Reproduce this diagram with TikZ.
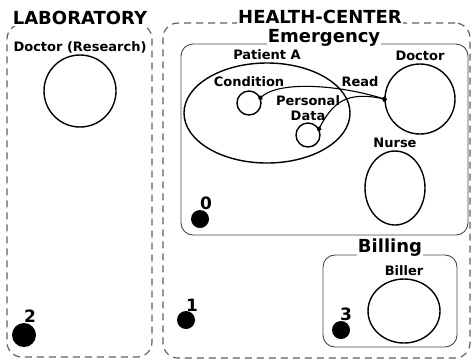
\documentclass[tikz,border=0pt]{standalone}
\usepackage{fontspec}
\setmainfont{DejaVu Sans}
\usetikzlibrary{arrows.meta,positioning,shapes.geometric}

\begin{document}
\begin{tikzpicture}[
x=1pt, y=-1pt,
node distance=1pt,
zone/.style={draw=gray!75!black, dash pattern=on 7pt off 5pt, rounded corners=15pt, line width=1.2pt, inner sep=0pt},
room/.style={draw=gray!55!black, rounded corners=12pt, line width=0.9pt, inner sep=0pt},
actor/.style={draw, circle, line width=1.4pt, inner sep=0pt},
blob/.style={draw, ellipse, line width=1.4pt, inner sep=0pt},
title/.style={font=\bfseries\fontsize{18}{18}\selectfont, fill=white, inner sep=1pt},
lbl/.style={font=\bfseries\fontsize{13}{15}\selectfont, align=center, inner sep=1pt},
num/.style={font=\bfseries\fontsize{17}{17}\selectfont, inner sep=0pt},
dot/.style={circle, fill=black, inner sep=0pt},
link/.style={line width=1.1pt, {Circle[length=5pt]}-{Circle[length=5pt]}, shorten <=-2.5pt, shorten >=-2.5pt}
]
\useasboundingbox (0,0) rectangle (473,360);

% domains
\node[zone, minimum width=145, minimum height=333] (lab) at (79.5,190.5) {};
\node[zone, minimum width=307, minimum height=335] (hc) at (316.5,190.5) {};
\node[title] (labt) at (80,18) {LABORATORY};
\node[title] (hct) at (320,17) {HEALTH-CENTER};

% rooms
\node[room, minimum width=287, minimum height=191] (emer) at (324.5,139.5) {};
\node[room, minimum width=134, minimum height=92] (bill) at (390,301) {};
\node[title] (emert) at (324,38) {Emergency};
\node[title] (billt) at (390,248) {Billing};

% actors
\node[actor, minimum size=72] (docres) at (80,91) {};
\node[lbl, above=0pt of docres] {Doctor (Research)};
\node[blob, minimum width=166, minimum height=100] (pat) at (267,113) {};
\node[lbl, above=1pt of pat] {Patient A};
\node[actor, minimum size=24] (cond) at (249,103) {};
\node[lbl, above=2pt of cond] {Condition};
\node[actor, minimum size=24] (pers) at (308,135) {};
\node[lbl, above=0pt of pers] {Personal\\Data};
\node[actor, minimum size=70] (doc) at (420,99) {};
\node[lbl, above=1pt of doc] {Doctor};
\node[blob, minimum width=60, minimum height=74] (nurse) at (395,188) {};
\node[lbl, above=1pt of nurse] {Nurse};
\node[blob, minimum width=72, minimum height=64] (biller) at (404,311) {};
\node[lbl, above=1pt of biller] {Biller};

% locations
\node[dot, minimum size=18] (p0) at (200,219) {};
\node[num] (n0) at (206,203) {0};
\node[dot, minimum size=18] (p1) at (186,320) {};
\node[num] (n1) at (192,305) {1};
\node[dot, minimum size=24] (p2) at (24,335) {};
\node[num] (n2) at (30,316) {2};
\node[dot, minimum size=18] (p3) at (341,330) {};
\node[num] (n3) at (346,314) {3};

% read access
\draw[link] (cond.25) .. controls +(20,-17) and +(-45,-14) .. (doc.west);
\draw[link] (pers.30) .. controls +(14,-26) and +(-38,-8) .. (doc.west);
\node[lbl] (read) at (360,82) {Read};
\end{tikzpicture}
\end{document}
